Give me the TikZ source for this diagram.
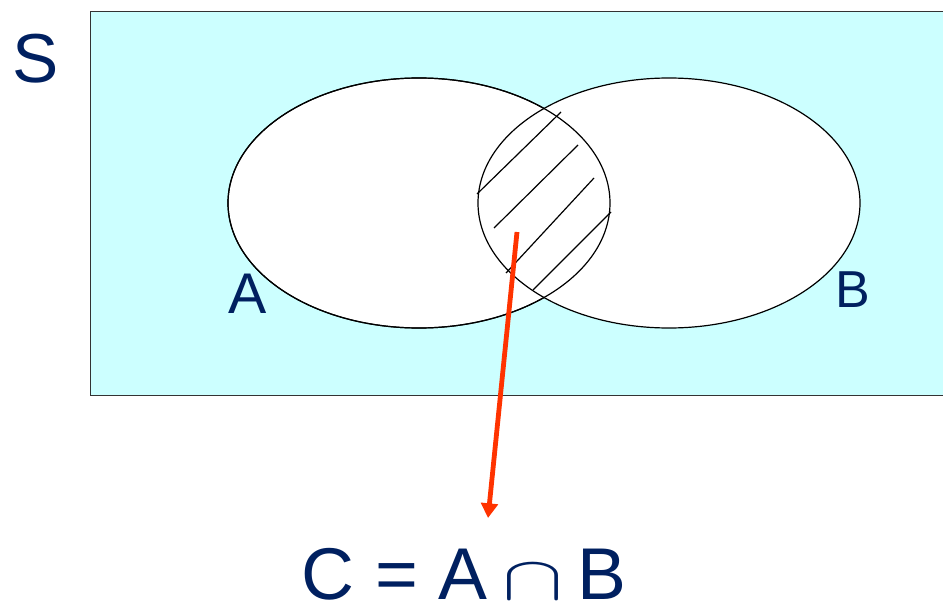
\documentclass[tikz,border=0pt]{standalone}
\usepackage{fontspec}
\usepackage{graphicx}
\setmainfont{Liberation Sans}
\usetikzlibrary{arrows.meta}
\definecolor{skyfill}{HTML}{CCFFFF}
\definecolor{navy}{HTML}{002060}
\definecolor{redarrow}{HTML}{FF3300}
\begin{document}
\begin{tikzpicture}[x=0.75pt,y=-0.75pt,
  setline/.style={draw=black,line width=0.9pt},
  hatch/.style={draw=black,line width=0.9pt},
  lbl/.style={text=navy,inner sep=0pt,anchor=base}]
\useasboundingbox (0,0) rectangle (943,603);
\node[draw=black!80,line width=1pt,fill=skyfill,minimum width=853*0.75pt,minimum height=384*0.75pt,inner sep=0pt,anchor=north west] (S) at (89.5,11) {};
\path[setline,fill=white] (419,203) ellipse [x radius=191, y radius=125];
\path[setline,fill=white] (669,203) ellipse [x radius=191, y radius=125];
\path[setline] (419,203) ellipse [x radius=191, y radius=125];
\draw[hatch] (477,194) -- (561,112);
\draw[hatch] (494,228) -- (578,145);
\draw[hatch] (506,273) -- (594,178);
\draw[hatch] (533,290) -- (611,212);
\node[lbl,font=\fontsize{52}{60}\selectfont] (Slbl) at (35.5,82) {S};
\node[lbl,font=\fontsize{43}{50}\selectfont] (Albl) at (248,313) {A};
\node[lbl,font=\fontsize{39}{46}\selectfont] (Blbl) at (853,307) {B};
\node[lbl,anchor=base west,font=\fontsize{55}{64}\selectfont] (C) at (301.5,599) {C = A\hspace{11.1pt}\resizebox{45.8pt}{26pt}{$\cap$}\hspace{10.9pt}B};
\coordinate (from) at (517,232);
\coordinate (to) at (488,518);
\draw[redarrow,line width=3.6pt,-{Triangle[length=11pt,width=12.5pt]}] (from) -- (to);
\end{tikzpicture}
\end{document}
